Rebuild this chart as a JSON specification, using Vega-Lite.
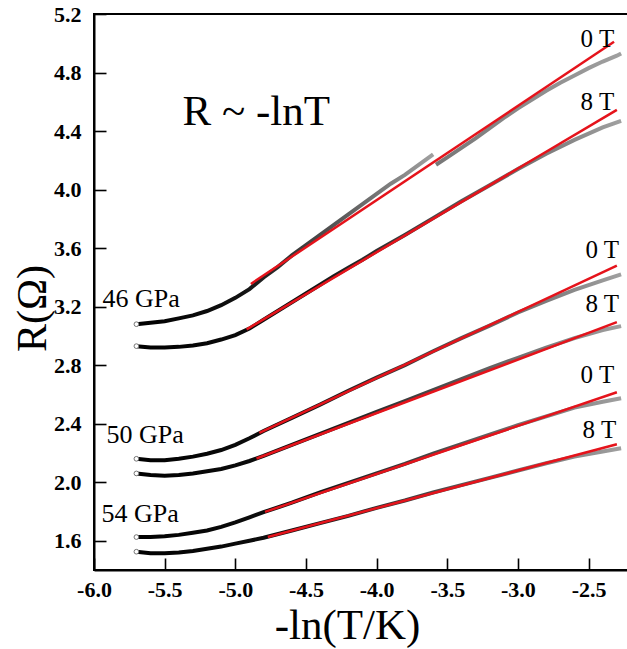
{
  "$schema": "https://vega.github.io/schema/vega-lite/v6.json",
  "width": 537,
  "height": 556,
  "autosize": {"type": "none"},
  "padding": {"left": 94, "top": 14, "right": 0, "bottom": 79},
  "background": "white",
  "config": {
    "view": {"stroke": "#000", "strokeWidth": 2},
    "font": "Liberation Serif",
    "axis": {"grid": false, "domainColor": "#000", "domainWidth": 2, "tickColor": "#000", "tickWidth": 1.6, "labelColor": "#000", "titleColor": "#000"}
  },
  "datasets": {
    "curves": [
      {"s":"46-0T-a","x":-5.7,"y":3.08},{"s":"46-0T-a","x":-5.6,"y":3.09},{"s":"46-0T-a","x":-5.5,"y":3.10},{"s":"46-0T-a","x":-5.4,"y":3.12},{"s":"46-0T-a","x":-5.3,"y":3.14},{"s":"46-0T-a","x":-5.2,"y":3.17},{"s":"46-0T-a","x":-5.1,"y":3.21},{"s":"46-0T-a","x":-5.0,"y":3.26},{"s":"46-0T-a","x":-4.9,"y":3.32},{"s":"46-0T-a","x":-4.8,"y":3.40},{"s":"46-0T-a","x":-4.7,"y":3.47},{"s":"46-0T-a","x":-4.6,"y":3.55},{"s":"46-0T-a","x":-4.5,"y":3.62},{"s":"46-0T-a","x":-4.4,"y":3.69},{"s":"46-0T-a","x":-4.3,"y":3.76},{"s":"46-0T-a","x":-4.2,"y":3.83},{"s":"46-0T-a","x":-4.1,"y":3.90},{"s":"46-0T-a","x":-4.0,"y":3.97},{"s":"46-0T-a","x":-3.9,"y":4.04},{"s":"46-0T-a","x":-3.8,"y":4.10},{"s":"46-0T-a","x":-3.7,"y":4.17},{"s":"46-0T-a","x":-3.6,"y":4.24},
      {"s":"46-0T-b","x":-3.58,"y":4.17},{"s":"46-0T-b","x":-3.5,"y":4.22},{"s":"46-0T-b","x":-3.4,"y":4.285},{"s":"46-0T-b","x":-3.3,"y":4.35},{"s":"46-0T-b","x":-3.2,"y":4.42},{"s":"46-0T-b","x":-3.1,"y":4.49},{"s":"46-0T-b","x":-3.0,"y":4.555},{"s":"46-0T-b","x":-2.9,"y":4.615},{"s":"46-0T-b","x":-2.8,"y":4.675},{"s":"46-0T-b","x":-2.7,"y":4.73},{"s":"46-0T-b","x":-2.6,"y":4.78},{"s":"46-0T-b","x":-2.5,"y":4.83},{"s":"46-0T-b","x":-2.4,"y":4.875},{"s":"46-0T-b","x":-2.3,"y":4.915},{"s":"46-0T-b","x":-2.27,"y":4.93},
      {"s":"46-8T","x":-5.7,"y":2.93},{"s":"46-8T","x":-5.6,"y":2.92},{"s":"46-8T","x":-5.5,"y":2.92},{"s":"46-8T","x":-5.4,"y":2.925},{"s":"46-8T","x":-5.3,"y":2.935},{"s":"46-8T","x":-5.2,"y":2.95},{"s":"46-8T","x":-5.1,"y":2.975},{"s":"46-8T","x":-5.0,"y":3.005},{"s":"46-8T","x":-4.9,"y":3.05},{"s":"46-8T","x":-4.8,"y":3.11},{"s":"46-8T","x":-4.7,"y":3.17},{"s":"46-8T","x":-4.6,"y":3.23},{"s":"46-8T","x":-4.5,"y":3.29},{"s":"46-8T","x":-4.4,"y":3.35},{"s":"46-8T","x":-4.3,"y":3.41},{"s":"46-8T","x":-4.2,"y":3.465},{"s":"46-8T","x":-4.1,"y":3.52},{"s":"46-8T","x":-4.0,"y":3.58},{"s":"46-8T","x":-3.8,"y":3.69},{"s":"46-8T","x":-3.6,"y":3.805},{"s":"46-8T","x":-3.4,"y":3.92},{"s":"46-8T","x":-3.2,"y":4.03},{"s":"46-8T","x":-3.0,"y":4.14},{"s":"46-8T","x":-2.8,"y":4.245},{"s":"46-8T","x":-2.6,"y":4.34},{"s":"46-8T","x":-2.4,"y":4.425},{"s":"46-8T","x":-2.27,"y":4.47},
      {"s":"50-0T","x":-5.7,"y":2.16},{"s":"50-0T","x":-5.6,"y":2.15},{"s":"50-0T","x":-5.5,"y":2.15},{"s":"50-0T","x":-5.4,"y":2.16},{"s":"50-0T","x":-5.3,"y":2.175},{"s":"50-0T","x":-5.2,"y":2.195},{"s":"50-0T","x":-5.1,"y":2.22},{"s":"50-0T","x":-5.0,"y":2.255},{"s":"50-0T","x":-4.9,"y":2.30},{"s":"50-0T","x":-4.8,"y":2.35},{"s":"50-0T","x":-4.6,"y":2.44},{"s":"50-0T","x":-4.4,"y":2.53},{"s":"50-0T","x":-4.2,"y":2.625},{"s":"50-0T","x":-4.0,"y":2.715},{"s":"50-0T","x":-3.8,"y":2.80},{"s":"50-0T","x":-3.6,"y":2.895},{"s":"50-0T","x":-3.4,"y":2.985},{"s":"50-0T","x":-3.2,"y":3.07},{"s":"50-0T","x":-3.0,"y":3.16},{"s":"50-0T","x":-2.8,"y":3.24},{"s":"50-0T","x":-2.6,"y":3.315},{"s":"50-0T","x":-2.4,"y":3.38},{"s":"50-0T","x":-2.27,"y":3.42},
      {"s":"50-8T","x":-5.7,"y":2.06},{"s":"50-8T","x":-5.6,"y":2.05},{"s":"50-8T","x":-5.5,"y":2.045},{"s":"50-8T","x":-5.4,"y":2.05},{"s":"50-8T","x":-5.3,"y":2.06},{"s":"50-8T","x":-5.2,"y":2.075},{"s":"50-8T","x":-5.1,"y":2.09},{"s":"50-8T","x":-5.0,"y":2.115},{"s":"50-8T","x":-4.9,"y":2.145},{"s":"50-8T","x":-4.8,"y":2.18},{"s":"50-8T","x":-4.6,"y":2.255},{"s":"50-8T","x":-4.4,"y":2.33},{"s":"50-8T","x":-4.2,"y":2.405},{"s":"50-8T","x":-4.0,"y":2.48},{"s":"50-8T","x":-3.8,"y":2.555},{"s":"50-8T","x":-3.6,"y":2.63},{"s":"50-8T","x":-3.4,"y":2.705},{"s":"50-8T","x":-3.2,"y":2.78},{"s":"50-8T","x":-3.0,"y":2.85},{"s":"50-8T","x":-2.8,"y":2.92},{"s":"50-8T","x":-2.6,"y":2.985},{"s":"50-8T","x":-2.4,"y":3.04},{"s":"50-8T","x":-2.27,"y":3.067},
      {"s":"54-0T","x":-5.7,"y":1.625},{"s":"54-0T","x":-5.6,"y":1.625},{"s":"54-0T","x":-5.5,"y":1.63},{"s":"54-0T","x":-5.4,"y":1.64},{"s":"54-0T","x":-5.3,"y":1.655},{"s":"54-0T","x":-5.2,"y":1.67},{"s":"54-0T","x":-5.1,"y":1.695},{"s":"54-0T","x":-5.0,"y":1.725},{"s":"54-0T","x":-4.9,"y":1.76},{"s":"54-0T","x":-4.8,"y":1.795},{"s":"54-0T","x":-4.6,"y":1.86},{"s":"54-0T","x":-4.4,"y":1.93},{"s":"54-0T","x":-4.2,"y":1.995},{"s":"54-0T","x":-4.0,"y":2.06},{"s":"54-0T","x":-3.8,"y":2.125},{"s":"54-0T","x":-3.6,"y":2.195},{"s":"54-0T","x":-3.4,"y":2.26},{"s":"54-0T","x":-3.2,"y":2.325},{"s":"54-0T","x":-3.0,"y":2.39},{"s":"54-0T","x":-2.8,"y":2.45},{"s":"54-0T","x":-2.6,"y":2.51},{"s":"54-0T","x":-2.4,"y":2.55},{"s":"54-0T","x":-2.27,"y":2.574},
      {"s":"54-8T","x":-5.7,"y":1.525},{"s":"54-8T","x":-5.6,"y":1.515},{"s":"54-8T","x":-5.5,"y":1.515},{"s":"54-8T","x":-5.4,"y":1.52},{"s":"54-8T","x":-5.3,"y":1.53},{"s":"54-8T","x":-5.2,"y":1.545},{"s":"54-8T","x":-5.1,"y":1.56},{"s":"54-8T","x":-5.0,"y":1.58},{"s":"54-8T","x":-4.9,"y":1.60},{"s":"54-8T","x":-4.8,"y":1.62},{"s":"54-8T","x":-4.6,"y":1.67},{"s":"54-8T","x":-4.4,"y":1.72},{"s":"54-8T","x":-4.2,"y":1.77},{"s":"54-8T","x":-4.0,"y":1.825},{"s":"54-8T","x":-3.8,"y":1.875},{"s":"54-8T","x":-3.6,"y":1.93},{"s":"54-8T","x":-3.4,"y":1.98},{"s":"54-8T","x":-3.2,"y":2.03},{"s":"54-8T","x":-3.0,"y":2.08},{"s":"54-8T","x":-2.8,"y":2.13},{"s":"54-8T","x":-2.6,"y":2.175},{"s":"54-8T","x":-2.4,"y":2.21},{"s":"54-8T","x":-2.27,"y":2.232}
    ],
    "fits": [
      {"s":"46-0T","x":-4.89,"y":3.355},{"s":"46-0T","x":-2.32,"y":5.01},
      {"s":"46-8T","x":-4.92,"y":3.045},{"s":"46-8T","x":-2.30,"y":4.545},
      {"s":"50-0T","x":-4.83,"y":2.337},{"s":"50-0T","x":-2.30,"y":3.48},
      {"s":"50-8T","x":-4.85,"y":2.162},{"s":"50-8T","x":-2.30,"y":3.094},
      {"s":"54-0T","x":-4.79,"y":1.797},{"s":"54-0T","x":-2.30,"y":2.615},
      {"s":"54-8T","x":-4.77,"y":1.625},{"s":"54-8T","x":-2.30,"y":2.26}
    ]
  },
  "layer": [
    {
      "data": {"name": "curves"},
      "transform": [{"filter": "datum.s !== '46-0T-b'"}],
      "mark": {"type": "line", "strokeWidth": 4, "stroke": {"gradient": "linear", "x1": 0, "x2": 1, "y1": 0, "y2": 0, "stops": [{"offset": 0, "color": "#000000"}, {"offset": 0.35, "color": "#111111"}, {"offset": 0.62, "color": "#4a4a4a"}, {"offset": 1, "color": "#a0a0a0"}]}},
      "encoding": {
        "x": {"field": "x", "type": "quantitative", "scale": {"domain": [-6, -2.2], "nice": false, "zero": false},
          "axis": {"orient": "bottom", "values": [-6, -5.75, -5.5, -5.25, -5, -4.75, -4.5, -4.25, -4, -3.75, -3.5, -3.25, -3, -2.75, -2.5, -2.25],
            "labelExpr": "abs(datum.value*2 - round(datum.value*2)) < 0.01 ? ((datum.value < 0 ? '-' : '') + format(abs(datum.value), '.1f')) : ''",
            "tickSize": {"condition": {"test": "abs(datum.value*2 - round(datum.value*2)) < 0.01", "value": -12}, "value": -6},
            "labelFont": "Liberation Serif", "labelFontWeight": "bold", "labelFontSize": 22, "labelColor": "#000", "labelPadding": 21, "labelFlush": false, "labelOverlap": false,
            "title": "-ln(T/K)", "titleFont": "Liberation Serif", "titleFontWeight": "normal", "titleFontSize": 43, "titleX": 253, "titleY": 68, "titleAlign": "center", "titleBaseline": "alphabetic"}},
        "y": {"field": "y", "type": "quantitative", "scale": {"domain": [1.4, 5.2], "nice": false, "zero": false},
          "axis": {"orient": "left", "values": [1.6, 1.8, 2.0, 2.2, 2.4, 2.6, 2.8, 3.0, 3.2, 3.4, 3.6, 3.8, 4.0, 4.2, 4.4, 4.6, 4.8, 5.0, 5.2],
            "labelExpr": "abs((datum.value-1.6)/0.4 - round((datum.value-1.6)/0.4)) < 0.01 ? format(datum.value, '.1f') : ''",
            "tickSize": {"condition": {"test": "abs((datum.value-1.6)/0.4 - round((datum.value-1.6)/0.4)) < 0.01", "value": -12}, "value": -6},
            "labelFont": "Liberation Serif", "labelFontWeight": "bold", "labelFontSize": 22, "labelColor": "#000", "labelPadding": 25, "labelFlush": false, "labelOverlap": false,
            "title": "R(Ω)", "titleFont": "Liberation Serif", "titleFontWeight": "normal", "titleFontSize": 42, "titleAngle": 270, "titleX": -62, "titleY": 294, "titleAlign": "center", "titleBaseline": "middle"}},
        "detail": {"field": "s"}
      }
    },
    {
      "data": {"name": "curves"},
      "transform": [{"filter": "datum.s === '46-0T-b'"}],
      "mark": {"type": "line", "strokeWidth": 4, "stroke": {"gradient": "linear", "x1": 0, "x2": 1, "y1": 0, "y2": 0, "stops": [{"offset": 0, "color": "#777777"}, {"offset": 1, "color": "#a0a0a0"}]}},
      "encoding": {
        "x": {"field": "x", "type": "quantitative"},
        "y": {"field": "y", "type": "quantitative"},
        "detail": {"field": "s"}
      }
    },
    {
      "data": {"name": "curves"},
      "transform": [{"filter": "datum.s !== '46-0T-b'"}, {"joinaggregate": [{"op": "min", "field": "x", "as": "xmin"}], "groupby": ["s"]}, {"filter": "datum.x === datum.xmin"}],
      "mark": {"type": "point", "shape": "circle", "filled": true, "fill": "white", "stroke": "#777777", "strokeWidth": 1, "size": 22, "opacity": 1},
      "encoding": {
        "x": {"field": "x", "type": "quantitative"},
        "y": {"field": "y", "type": "quantitative"}
      }
    },
    {
      "data": {"name": "fits"},
      "mark": {"type": "line", "color": "#e5131b", "strokeWidth": 2.5},
      "encoding": {
        "x": {"field": "x", "type": "quantitative"},
        "y": {"field": "y", "type": "quantitative"},
        "detail": {"field": "s"}
      }
    },
    {
      "data": {"values": [{"x": -5.374, "y": 4.441, "t": "R ~ -lnT"}]},
      "mark": {"type": "text", "font": "Liberation Serif", "fontSize": 43, "align": "left", "baseline": "alphabetic", "color": "#000"},
      "encoding": {
        "x": {"field": "x", "type": "quantitative"},
        "y": {"field": "y", "type": "quantitative"},
        "text": {"field": "t"}
      }
    },
    {
      "data": {"values": [{"x": -5.94, "y": 3.197, "t": "46 GPa"}, {"x": -5.912, "y": 2.267, "t": "50 GPa"}, {"x": -5.947, "y": 1.726, "t": "54 GPa"}]},
      "mark": {"type": "text", "font": "Liberation Serif", "fontSize": 26, "align": "left", "baseline": "alphabetic", "color": "#000"},
      "encoding": {
        "x": {"field": "x", "type": "quantitative"},
        "y": {"field": "y", "type": "quantitative"},
        "text": {"field": "t"}
      }
    },
    {
      "data": {"values": [{"x": -2.319, "y": 4.974, "t": "0 T"}, {"x": -2.319, "y": 4.544, "t": "8 T"}, {"x": -2.284, "y": 3.532, "t": "0 T"}, {"x": -2.284, "y": 3.162, "t": "8 T"}, {"x": -2.319, "y": 2.677, "t": "0 T"}, {"x": -2.305, "y": 2.301, "t": "8 T"}]},
      "mark": {"type": "text", "font": "Liberation Serif", "fontSize": 25, "align": "right", "baseline": "alphabetic", "color": "#000"},
      "encoding": {
        "x": {"field": "x", "type": "quantitative"},
        "y": {"field": "y", "type": "quantitative"},
        "text": {"field": "t"}
      }
    }
  ]
}
